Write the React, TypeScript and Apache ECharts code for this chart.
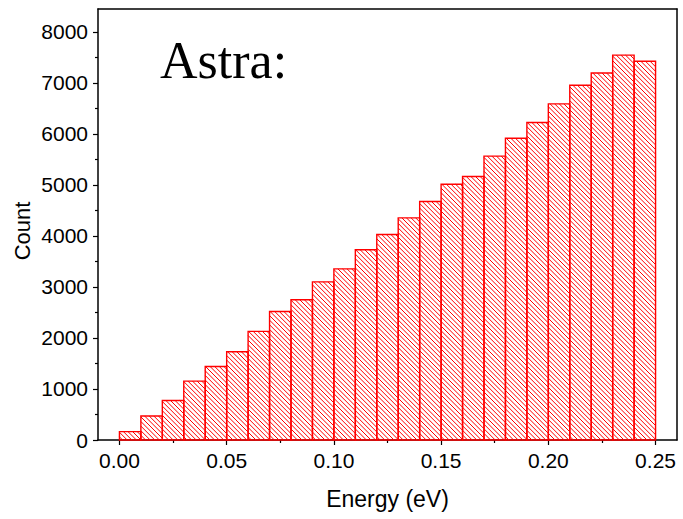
import React, { useEffect, useRef } from "react";
import * as echarts from "echarts";

// Histogram bins (left edge, right edge in eV) and counts
const binLefts = [
  0.0, 0.01, 0.02, 0.03, 0.04, 0.05, 0.06, 0.07, 0.08, 0.09, 0.1, 0.11, 0.12,
  0.13, 0.14, 0.15, 0.16, 0.17, 0.18, 0.19, 0.2, 0.21, 0.22, 0.23, 0.24,
];
const binWidth = 0.01;
const counts = [
  165, 470, 775, 1155, 1440, 1730, 2130, 2520, 2750, 3100, 3355, 3730, 4030,
  4355, 4675, 5015, 5165, 5565, 5915, 6225, 6590, 6955, 7195, 7545, 7425,
];
const xTicks = [0, 0.05, 0.1, 0.15, 0.2, 0.25];
const xMinorTicks = [0.025, 0.075, 0.125, 0.175, 0.225];
const yTicks = [0, 1000, 2000, 3000, 4000, 5000, 6000, 7000, 8000];
const yMinorTicks = [500, 1500, 2500, 3500, 4500, 5500, 6500, 7500];
const xRange = [-0.01, 0.26];
const yRange = [0, 8450];
const title = "Astra:";
const xName = "Energy (eV)";
const yName = "Count";

export default function App() {
  const ref = useRef<HTMLDivElement>(null);
  useEffect(() => {
    if (!ref.current) return;
    const chart = echarts.init(ref.current, null, { renderer: "svg" });
    const data = binLefts.map((l, i) => [l, l + binWidth, counts[i]]);
    const sans = "Liberation Sans, Arial, sans-serif";
    const lineStyle = { color: "#000", width: 1.5 };
    const tickStyle = { color: "#000", width: 1.2 };
    chart.setOption({
      animation: false,
      grid: { left: 98, right: 6, top: 9, bottom: 79, containLabel: false },
      xAxis: [
        {
          type: "value",
          min: xRange[0],
          max: xRange[1],
          position: "bottom",
          axisLine: { show: true, onZero: false, lineStyle },
          axisTick: { show: true, customValues: xTicks, length: 5, lineStyle: tickStyle },
          axisLabel: {
            customValues: xTicks,
            formatter: (v: number) => v.toFixed(2),
            fontSize: 21,
            color: "#000",
            fontFamily: sans,
            margin: 10,
          },
          splitLine: { show: false },
          name: xName,
          nameLocation: "middle",
          nameGap: 47,
          nameTextStyle: { fontSize: 23, color: "#000", fontFamily: sans },
        },
        {
          type: "value",
          min: xRange[0],
          max: xRange[1],
          position: "top",
          axisLine: { show: true, onZero: false, lineStyle },
          axisTick: { show: false },
          axisLabel: { show: false },
          splitLine: { show: false },
        },
        {
          type: "value",
          min: xRange[0],
          max: xRange[1],
          position: "bottom",
          axisLine: { show: false, onZero: false },
          axisTick: { show: true, customValues: xMinorTicks, length: 3, lineStyle: tickStyle },
          axisLabel: { show: false },
          splitLine: { show: false },
        },
      ],
      yAxis: [
        {
          type: "value",
          min: yRange[0],
          max: yRange[1],
          position: "left",
          axisLine: { show: true, onZero: false, lineStyle },
          axisTick: { show: true, customValues: yTicks, length: 5, lineStyle: tickStyle },
          axisLabel: {
            customValues: yTicks,
            formatter: (v: number) => String(v),
            fontSize: 21,
            color: "#000",
            fontFamily: sans,
            margin: 10,
          },
          splitLine: { show: false },
        },
        {
          type: "value",
          min: yRange[0],
          max: yRange[1],
          position: "right",
          axisLine: { show: true, onZero: false, lineStyle },
          axisTick: { show: false },
          axisLabel: { show: false },
          splitLine: { show: false },
        },
        {
          type: "value",
          min: yRange[0],
          max: yRange[1],
          position: "left",
          axisLine: { show: false, onZero: false },
          axisTick: { show: true, customValues: yMinorTicks, length: 3, lineStyle: tickStyle },
          axisLabel: { show: false },
          splitLine: { show: false },
        },
      ],
      graphic: [
        {
          type: "text",
          x: 160,
          y: 60,
          style: {
            text: title,
            font: "52px 'Liberation Serif', 'Times New Roman', serif",
            fill: "#000",
            align: "left",
            verticalAlign: "middle",
          },
        },
        {
          type: "text",
          x: 22,
          y: 231,
          rotation: Math.PI / 2,
          style: {
            text: yName,
            font: "22px 'Liberation Sans', Arial, sans-serif",
            fill: "#000",
            align: "center",
            verticalAlign: "middle",
          },
        },
      ],
      series: [
        {
          type: "custom",
          xAxisIndex: 0,
          yAxisIndex: 0,
          encode: { x: [0, 1], y: 2 },
          data,
          renderItem: (params: any, api: any) => {
            const x0 = api.value(0);
            const x1 = api.value(1);
            const y = api.value(2);
            const p0 = api.coord([x0, y]);
            const p1 = api.coord([x1, 0]);
            const left = p0[0];
            const right = p1[0];
            const top = p0[1];
            const bottom = p1[1];
            const children: any[] = [];
            const s = 4.6;
            const cMin = top - right;
            const cMax = bottom - left;
            for (let k = Math.ceil(cMin / s); k * s <= cMax; k++) {
              const c = k * s;
              const xa = Math.max(left, top - c);
              const xb = Math.min(right, bottom - c);
              if (xb > xa) {
                children.push({
                  type: "line",
                  shape: { x1: xa, y1: xa + c, x2: xb, y2: xb + c },
                  style: { stroke: "#ff0000", lineWidth: 1 },
                });
              }
            }
            children.push({
              type: "rect",
              shape: { x: left, y: top, width: right - left, height: bottom - top },
              style: { fill: "none", stroke: "#ff0000", lineWidth: 1.4 },
            });
            return { type: "group", children };
          },
        },
      ],
    });
    return () => chart.dispose();
  }, []);
  return <div ref={ref} style={{ width: 683, height: 519, position: "absolute", left: 0, top: 0 }} />;
}
